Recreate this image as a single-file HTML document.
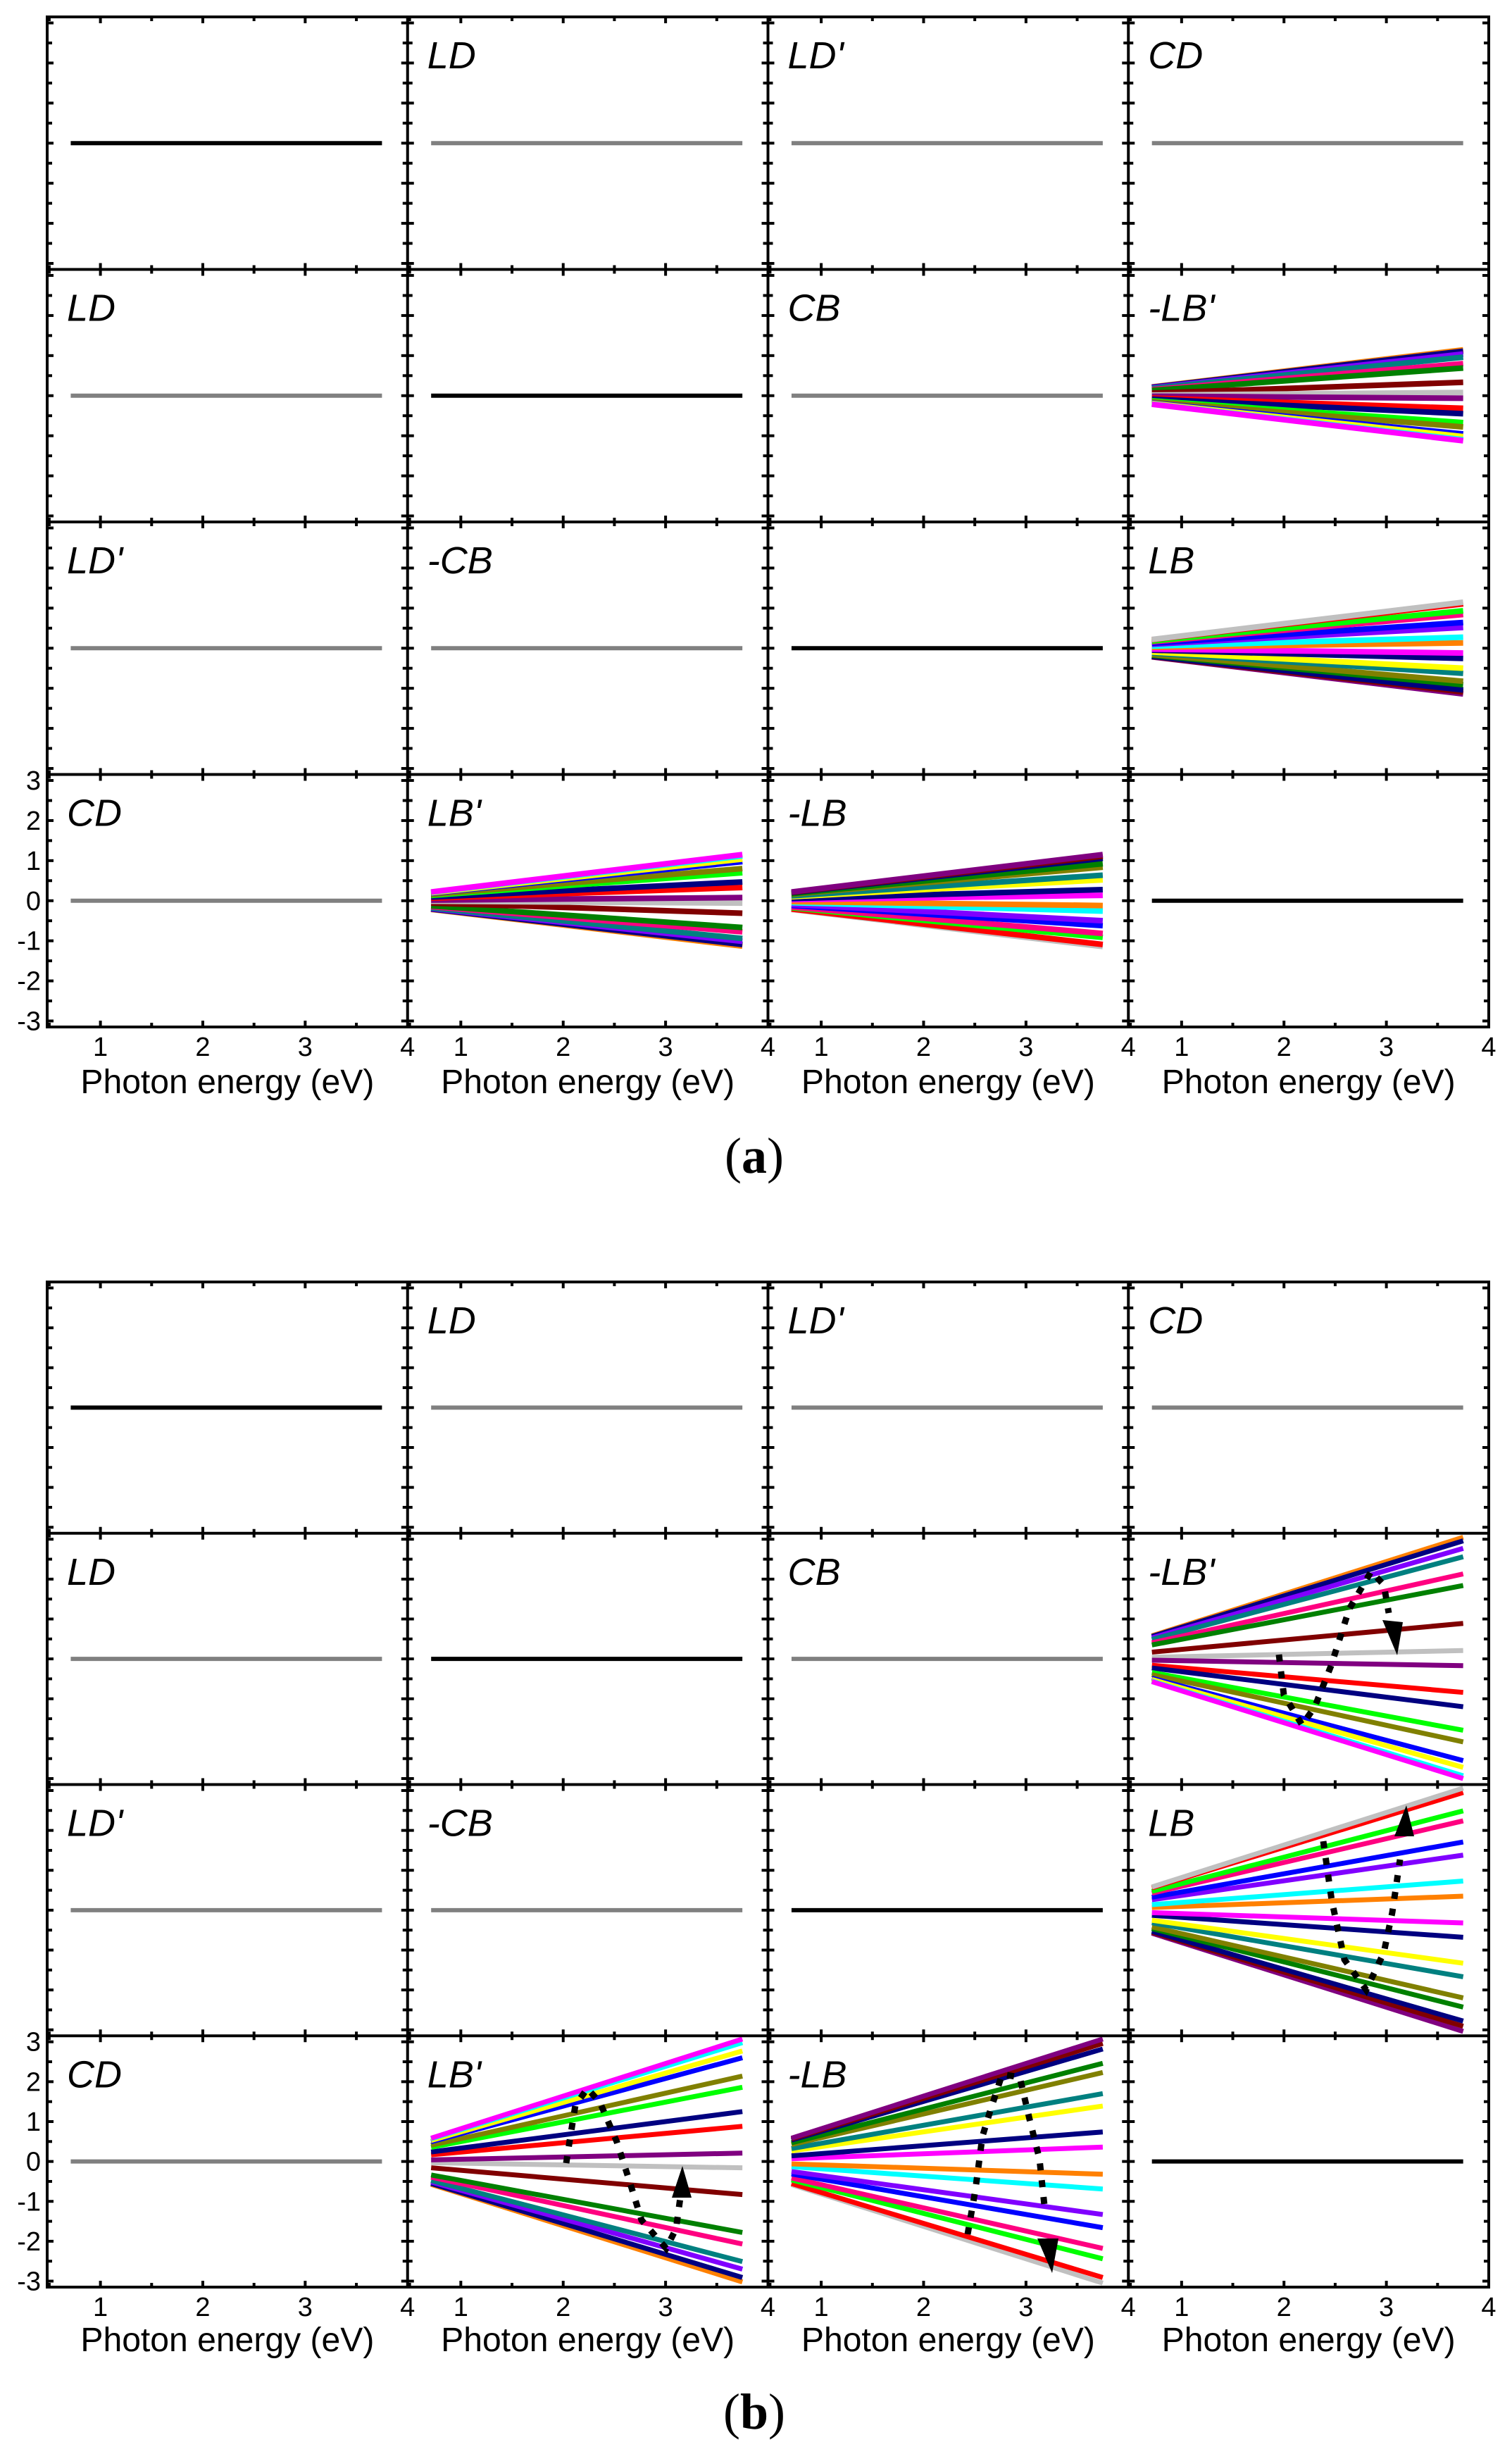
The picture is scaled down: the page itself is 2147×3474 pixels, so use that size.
<!DOCTYPE html>
<html><head><meta charset="utf-8"><style>
html,body{margin:0;padding:0;background:#fff;}
svg{display:block;}
text{font-family:"Liberation Sans",Arial,sans-serif;}
.lab{font-style:italic;font-size:54px;}
.tk{font-size:38px;}
.xl{font-size:48px;}
.cap{font-family:"Liberation Serif",serif;font-size:72px;}
</style></head><body>
<svg id="s" width="2147" height="3474" viewBox="0 0 2147 3474" xmlns="http://www.w3.org/2000/svg">
<g id="plots"></g>
<g id="texts"></g>
<text class="cap" x="1071" y="1665" text-anchor="middle">(<tspan font-weight="bold">a</tspan>)</text>
<text class="cap" x="1071" y="3448" text-anchor="middle">(<tspan font-weight="bold">b</tspan>)</text>
</svg>
<script>
(function(){
var NS="http://www.w3.org/2000/svg";
var plots=document.getElementById('plots'), texts=document.getElementById('texts');
function el(tag,attrs,parent,txt){var e=document.createElementNS(NS,tag);for(var k in attrs)e.setAttribute(k,attrs[k]);if(txt!==undefined)e.textContent=txt;(parent||plots).appendChild(e);return e;}
var colX=[67,578.75,1090.5,1602.25,2114];
var W=511.75;
var sets=[{top:24,h:358.5},{top:1820,h:356.75}];
var labels=[["","LD","LD'","CD"],["LD","","CB","-LB'"],["LD'","-CB","","LB"],["CD","LB'","-LB",""]];
var C={magenta:"#ff00ff",yellow:"#ffff00",blue:"#0000ff",olive:"#808000",lime:"#00ff00",navy:"#000080",red:"#ff0000",purple:"#800080",silver:"#c0c0c0",maroon:"#800000",green:"#008000",pink:"#ff0080",teal:"#008080",violet:"#8000ff",orange:"#ff8000",cyan:"#00ffff"};
var fans={
"1,3":[["orange",3.05],["navy",2.96],["violet",2.77],["teal",2.56],["pink",2.13],["green",1.84],["maroon",0.89],["silver",0.21],["purple",-0.17],["red",-0.84],["navy",-1.2],["lime",-1.79],["olive",-2.08],["blue",-2.55],["yellow",-2.72],["cyan",-2.93],["magenta",-3.0]],
"2,3":[["purple",-3.04],["maroon",-2.91],["navy",-2.78],["green",-2.43],["olive",-2.2],["teal",-1.67],["yellow",-1.33],["navy",-0.68],["magenta",-0.32],["orange",0.35],["cyan",0.73],["violet",1.38],["blue",1.71],["pink",2.24],["lime",2.49],["red",2.95],["silver",3.06]],
"3,1":[["orange",-3.02],["navy",-2.91],["violet",-2.7],["teal",-2.51],["pink",-2.07],["green",-1.78],["maroon",-0.83],["silver",-0.16],["purple",0.21],["red",0.88],["navy",1.25],["lime",1.86],["olive",2.14],["blue",2.6],["yellow",2.77],["cyan",2.98],["magenta",3.07]],
"3,2":[["silver",-3.05],["red",-2.91],["lime",-2.44],["pink",-2.18],["blue",-1.66],["violet",-1.33],["cyan",-0.69],["orange",-0.32],["magenta",0.36],["navy",0.74],["yellow",1.39],["teal",1.7],["olive",2.23],["green",2.46],["navy",2.82],["maroon",2.96],["purple",3.07]]
};
var E0=0.48,PXE=W/3.52;
sets.forEach(function(S,si){
  var h=S.h, unit=h/6.3;
  for(var r=0;r<4;r++){
    var top=S.top+r*h, cy=top+h/2;
    for(var c=0;c<4;c++){
      var x0=colX[c];
      function px(e){return x0+(e-E0)*PXE;}
      function py(v){return cy-v*unit;}
      for(var e=0.5;e<4;e+=0.5){var L=(e%1===0)?9:6;var X=px(e);
        el('line',{x1:X,y1:top,x2:X,y2:top+L,stroke:'#000','stroke-width':4});
        el('line',{x1:X,y1:top+h,x2:X,y2:top+h-L,stroke:'#000','stroke-width':4});}
      for(var v=-3;v<=3.01;v+=0.5){var Y=py(v);var L2=(Math.abs(v%1)<0.01)?9:7;
        el('line',{x1:x0,y1:Y,x2:x0+L2,y2:Y,stroke:'#000','stroke-width':4});
        el('line',{x1:x0+W,y1:Y,x2:x0+W-L2,y2:Y,stroke:'#000','stroke-width':4});}
      var xa=px(0.71), xb=px(3.75);
      var key=r+","+c;
      if(fans[key]){
        var sc=si===0?0.375:1, sw=si===0?8:7;
        fans[key].forEach(function(f){var y1=f[1]*sc,y0=y1*0.19;
          el('line',{x1:xa,y1:py(y0),x2:xb,y2:py(y1),stroke:C[f[0]],'stroke-width':sw});});
      } else {
        el('line',{x1:xa,y1:cy,x2:xb,y2:cy,stroke:(r===c?'#000':'#808080'),'stroke-width':6});
      }
      if(labels[r][c]) el('text',{x:x0+28,y:top+73,'class':'lab'},texts,labels[r][c]);
    }
  }
  for(var i=0;i<5;i++){el('line',{x1:colX[i],y1:S.top,x2:colX[i],y2:S.top+4*h,stroke:'#000','stroke-width':4});
    el('line',{x1:colX[0]-2,y1:S.top+i*h,x2:colX[4]+2,y2:S.top+i*h,stroke:'#000','stroke-width':4});}
  var bot=S.top+4*h;
  var cy4=S.top+3*h+h/2;
  for(var v=-3;v<=3;v++){el('text',{x:58,y:cy4-v*unit+13,'class':'tk','text-anchor':'end'},texts,String(v));}
  for(var c=0;c<4;c++){
    var x0=colX[c];
    for(var e=1;e<=4;e++){el('text',{x:x0+(e-E0)*PXE,y:bot+41,'class':'tk','text-anchor':'middle'},texts,String(e));}
    el('text',{x:x0+W/2,y:bot+(si===0?94:91),'class':'xl','text-anchor':'middle',textLength:417,lengthAdjust:'spacingAndGlyphs'},texts,'Photon energy (eV)');
  }
});
var arrows=[
 {p:[[1816,2349],[1823,2406],[1849,2449],[1867,2423],[1890,2365],[1916,2284],[1947,2231],[1965,2250],[1972,2290]],tip:[1984,2350],b:[[1963,2300],[1992,2303]]},
 {p:[[1879,2614],[1891,2698],[1909,2782],[1940,2825],[1965,2772],[1977,2715],[1988,2640]],tip:[1997,2563],b:[[1980,2607],[2008,2607]]},
 {p:[[804,3071],[808,3045],[817,2989],[834,2965],[852,2985],[876,3041],[894,3097],[911,3152],[946,3192],[960,3164],[966,3120]],tip:[969,3075],b:[[954,3120],[982,3120]]},
 {p:[[1374,3172],[1385,3109],[1395,3033],[1406,2997],[1423,2945],[1448,2949],[1462,3009],[1476,3065],[1484,3140]],tip:[1494,3227],b:[[1473,3178],[1503,3178]]}
];
arrows.forEach(function(a){
  var d="M"+a.p.map(function(q){return q[0]+","+q[1];}).join(" L");
  el('path',{d:d,fill:'none',stroke:'#000','stroke-width':9,'stroke-dasharray':'10 14'});
  el('polygon',{points:a.b[0].join(",")+" "+a.b[1].join(",")+" "+a.tip.join(","),fill:'#000'});
});
})();
</script>
</body></html>
